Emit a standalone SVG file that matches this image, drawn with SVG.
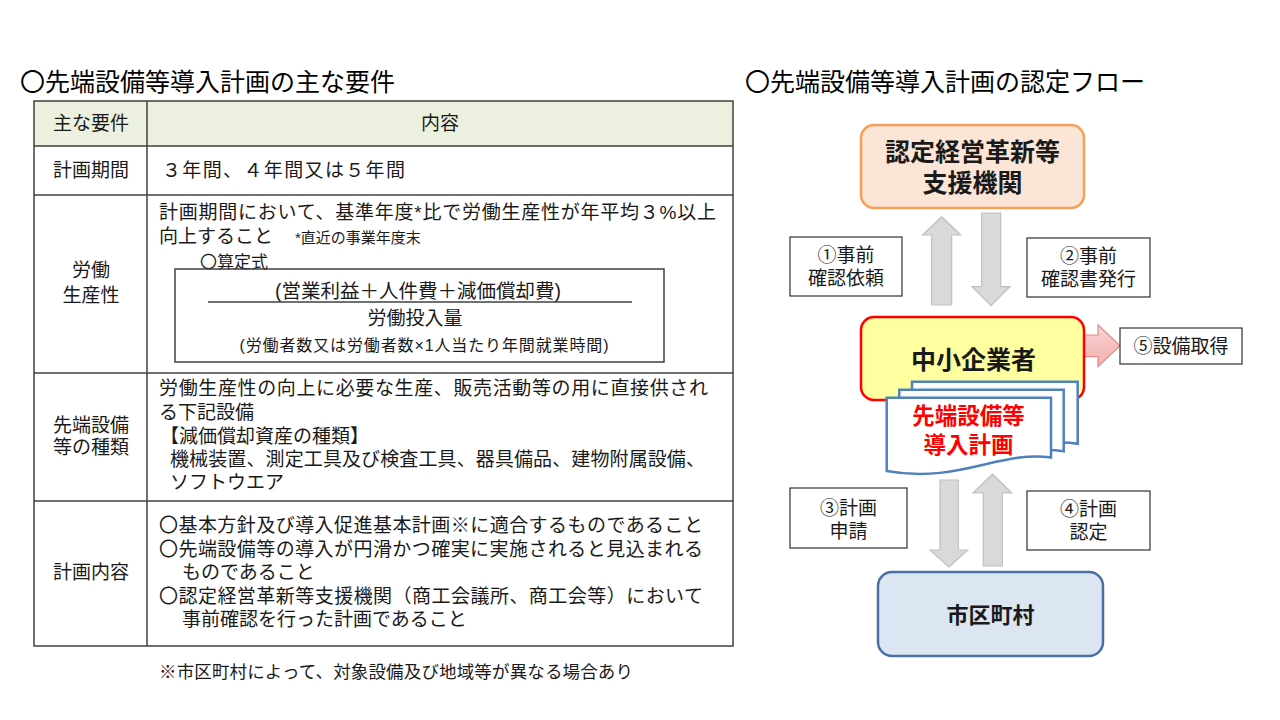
<svg xmlns="http://www.w3.org/2000/svg" width="1280" height="720" viewBox="0 0 1280 720">
<defs>
<style>
text{font-family:"Liberation Sans","Noto Sans CJK JP",sans-serif;fill:#1a1a1a;dominant-baseline:central}
.title{font-size:25px;fill:#000}
.t{font-size:19px}
.s{font-size:15px}
.c{text-anchor:middle}
.b{font-weight:bold}
.grid{stroke:#404040;stroke-width:1.5;fill:none}
.lbl{fill:#fff;stroke:#404040;stroke-width:1.3}
.garrow{fill:#D9D9D9;stroke:#BFBFBF;stroke-width:1.2}
.doc{fill:#fff;stroke:#4F81BD;stroke-width:2.5}
</style>
<linearGradient id="pink" x1="0" y1="0" x2="0" y2="1">
<stop offset="0" stop-color="#FAD3D3"/>
<stop offset="1" stop-color="#F2AEAE"/>
</linearGradient>
</defs>
<rect width="1280" height="720" fill="#fff"/>

<g id="left-title"><text class="title" x="20" y="82">〇先端設備等導入計画の主な要件</text></g>

<g id="table">
<rect x="34" y="101" width="699" height="45" fill="#EBF1DE"/>
<rect class="grid" x="34" y="101" width="699" height="545"/>
<line class="grid" x1="147" y1="101" x2="147" y2="646"/>
<line class="grid" x1="34" y1="146" x2="733" y2="146"/>
<line class="grid" x1="34" y1="195" x2="733" y2="195"/>
<line class="grid" x1="34" y1="373" x2="733" y2="373"/>
<line class="grid" x1="34" y1="501" x2="733" y2="501"/>
<text class="t c" x="91" y="123">主な要件</text>
<text class="t c" x="440" y="123">内容</text>

<text class="t c" x="91" y="170">計画期間</text>
<text class="t" x="162" y="170" textLength="243">３年間、４年間又は５年間</text>

<text class="t c" x="91" y="270">労働</text>
<text class="t c" x="91" y="295">生産性</text>
<text class="t" x="159" y="212" textLength="557">計画期間において、基準年度*比で労働生産性が年平均３%以上</text>
<text class="t" x="159" y="236">向上すること</text>
<text class="s" x="295" y="237">*直近の事業年度末</text>
<text x="200" y="262" style="font-size:17px">〇算定式</text>
<rect class="grid" x="175" y="269" width="489" height="93"/>
<text class="c" x="418" y="291" style="font-size:19.5px">(営業利益＋人件費＋減価償却費)</text>
<line class="grid" x1="208" y1="302" x2="632" y2="302"/>
<text class="t c" x="415" y="318">労働投入量</text>
<text class="c" x="424" y="345" style="font-size:16px" textLength="369">(労働者数又は労働者数×1人当たり年間就業時間)</text>

<text class="t c" x="91" y="425">先端設備</text>
<text class="t c" x="91" y="447">等の種類</text>
<text class="t" x="159" y="388" textLength="549">労働生産性の向上に必要な生産、販売活動等の用に直接供され</text>
<text class="t" x="159" y="412">る下記設備</text>
<text class="t" x="160" y="436">【減価償却資産の種類】</text>
<text class="t" x="170" y="459" textLength="535">機械装置、測定工具及び検査工具、器具備品、建物附属設備、</text>
<text class="t" x="170" y="482">ソフトウエア</text>

<text class="t c" x="91" y="572">計画内容</text>
<text class="t" x="159" y="525" textLength="544">〇基本方針及び導入促進基本計画※に適合するものであること</text>
<text class="t" x="159" y="549" textLength="544">〇先端設備等の導入が円滑かつ確実に実施されると見込まれる</text>
<text class="t" x="182" y="572">ものであること</text>
<text class="t" x="159" y="596" textLength="544">〇認定経営革新等支援機関（商工会議所、商工会等）において</text>
<text class="t" x="182" y="619">事前確認を行った計画であること</text>
</g>

<g id="footnote"><text x="159" y="672" style="font-size:17.5px" textLength="474">※市区町村によって、対象設備及び地域等が異なる場合あり</text></g>

<g id="right-title"><text class="title" x="745" y="82">〇先端設備等導入計画の認定フロー</text></g>

<g id="connectors">
<polygon id="arrow1" class="garrow" points="941.7,216.7 960.7,235 951.7,235 951.7,305 931.7,305 931.7,235 922.7,235"/>
<polygon id="arrow2" class="garrow" points="981.7,213 1000.7,213 1000.7,286.7 1010,286.7 991,305.7 972,286.7 981.7,286.7"/>
<polygon id="arrow3" class="garrow" points="940,480 958.3,480 958.3,550 967.7,550 949,567 930,550 940,550"/>
<polygon id="arrow4" class="garrow" points="992.5,474 1011.7,493 1002.3,493 1002.3,566 983.3,566 983.3,493 973,493"/>
<polygon id="arrow5" points="1065,335 1098,335 1098,325 1120,345.8 1098,366.7 1098,356.7 1065,356.7" fill="url(#pink)" stroke="#E08C8C" stroke-width="1.2"/>
</g>

<g id="node-shien">
<rect x="861" y="125" width="223" height="83" rx="13" fill="#FBE5D6" stroke="#F5A05A" stroke-width="2.5"/>
<text class="c b" x="972.5" y="152" style="font-size:25px">認定経営革新等</text>
<text class="c b" x="972.5" y="183" style="font-size:25px">支援機関</text>
</g>

<g id="label1">
<rect class="lbl" x="790" y="237" width="112" height="59"/>
<text class="t c" x="846" y="255">①事前</text>
<text class="t c" x="846" y="278">確認依頼</text>
</g>
<g id="label2">
<rect class="lbl" x="1027" y="238" width="123" height="59"/>
<text class="t c" x="1088.5" y="256">②事前</text>
<text class="t c" x="1088.5" y="279">確認書発行</text>
</g>

<g id="node-chusho">
<rect x="861" y="317" width="223" height="83" rx="13" fill="#FFFF9F" stroke="#FF0000" stroke-width="2.5"/>
<text class="c b" x="973.5" y="360" style="font-size:25px">中小企業者</text>
</g>

<g id="label5">
<rect class="lbl" x="1120" y="328" width="122" height="36"/>
<text class="t c" x="1181" y="346">⑤設備取得</text>
</g>

<g id="node-keikaku">
<path class="doc" d="M912,381.7 H1077.7 V443.7 C1026,436 986,468 912,456 Z"/>
<path class="doc" d="M899.3,389.7 H1063.7 V451.2 C1012,443 972,476 899.3,463.5 Z"/>
<path class="doc" d="M886.7,397.7 H1051 V457.5 C1000,450 958,484 886.7,471 Z"/>
<text class="c b" x="968.5" y="416.7" style="font-size:22.5px;fill:#FF0000">先端設備等</text>
<text class="c b" x="968.5" y="445" style="font-size:22.5px;fill:#FF0000">導入計画</text>
</g>

<g id="label3">
<rect class="lbl" x="790" y="488" width="117" height="60"/>
<text class="t c" x="848.5" y="508">③計画</text>
<text class="t c" x="848.5" y="531">申請</text>
</g>
<g id="label4">
<rect class="lbl" x="1027" y="491" width="123" height="59"/>
<text class="t c" x="1088.5" y="509">④計画</text>
<text class="t c" x="1088.5" y="532">認定</text>
</g>

<g id="node-shikuchoson">
<rect x="878" y="572" width="225" height="84" rx="14" fill="#DCE6F2" stroke="#4A6FA5" stroke-width="2.5"/>
<text class="c b" x="990.5" y="615" style="font-size:22px">市区町村</text>
</g>
</svg>
